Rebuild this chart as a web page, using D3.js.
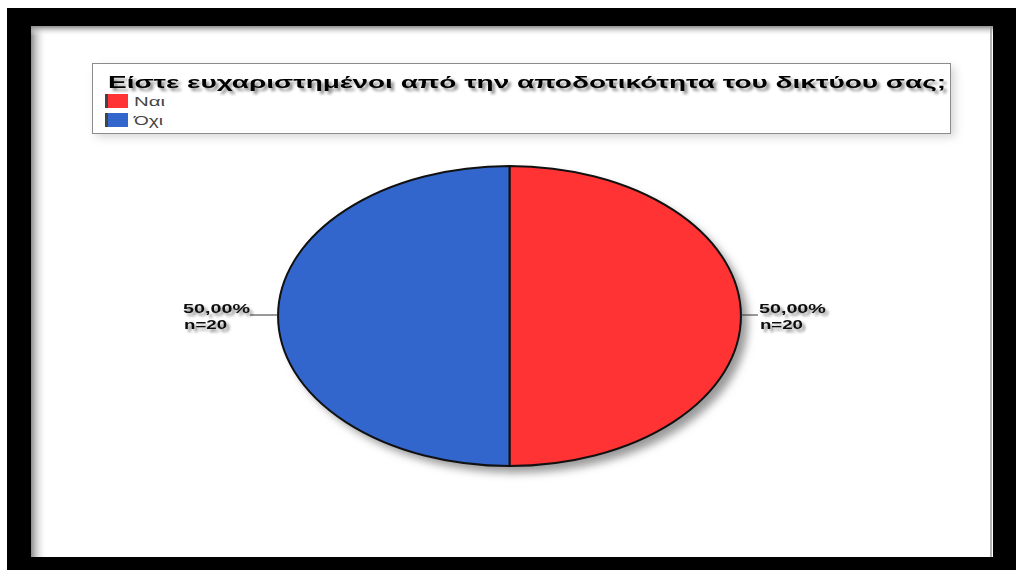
<!DOCTYPE html>
<html>
<head>
<meta charset="utf-8">
<script src="https://cdn.jsdelivr.net/npm/d3@7"></script>
<style>
  html, body { margin: 0; padding: 0; background: #fff; }
  svg { display: block; }
  text { font-family: "Liberation Sans", Arial, sans-serif; }
</style>
</head>
<body>
<svg id="chart" width="1016" height="570"></svg>
<script>
// Survey answers
const categories = ["Ναι", "Όχι"];
const counts = [20, 20];
const percentLabels = ["50,00%", "50,00%"];
const countLabels = ["n=20", "n=20"];
const colors = ["#ff3333", "#3366cc"];
const title = "Είστε ευχαριστημένοι από την αποδοτικότητα του δικτύου σας;";

const svg = d3.select("#chart");
const W = 1016, H = 570;

const defs = svg.append("defs");
const shadow = defs.append("filter").attr("id", "soft").attr("x", "-20%").attr("y", "-20%")
  .attr("width", "140%").attr("height", "140%");
shadow.append("feGaussianBlur").attr("stdDeviation", 4);

const txtShadow = defs.append("filter").attr("id", "txtShadow").attr("x", "-10%").attr("y", "-40%")
  .attr("width", "120%").attr("height", "180%");
txtShadow.append("feGaussianBlur").attr("in", "SourceAlpha").attr("stdDeviation", 1.6).attr("result", "b");
txtShadow.append("feOffset").attr("in", "b").attr("dx", 3).attr("dy", 3).attr("result", "o");
txtShadow.append("feComponentTransfer").attr("in", "o").attr("result", "s")
  .append("feFuncA").attr("type", "linear").attr("slope", 0.45);
const m = txtShadow.append("feMerge");
m.append("feMergeNode").attr("in", "s");
m.append("feMergeNode").attr("in", "SourceGraphic");

const gl = defs.append("linearGradient").attr("id", "edgeL").attr("x1", 0).attr("x2", 1);
gl.append("stop").attr("offset", 0).attr("stop-color", "#8a8a8a");
gl.append("stop").attr("offset", 1).attr("stop-color", "#fff").attr("stop-opacity", 0);
const gt = defs.append("linearGradient").attr("id", "edgeT").attr("x1", 0).attr("x2", 0).attr("y1", 0).attr("y2", 1);
gt.append("stop").attr("offset", 0).attr("stop-color", "#8a8a8a");
gt.append("stop").attr("offset", 1).attr("stop-color", "#fff").attr("stop-opacity", 0);

// Black outer frame
svg.append("rect").attr("x", 7).attr("y", 8).attr("width", W - 7).attr("height", H - 8).attr("fill", "#000");
svg.append("rect").attr("x", 31).attr("y", 26).attr("width", 962 - 0).attr("height", 531).attr("fill", "#fff");
svg.append("rect").attr("x", 31).attr("y", 26).attr("width", 16).attr("height", 531).attr("fill", "url(#edgeL)");
svg.append("rect").attr("x", 31).attr("y", 26).attr("width", 962).attr("height", 10).attr("fill", "url(#edgeT)");
svg.append("line").attr("x1", 991).attr("x2", 991).attr("y1", 26).attr("y2", 557)
  .attr("stroke", "#999").attr("stroke-width", 1.5);

// Legend box
const legend = svg.append("g");
legend.append("rect").attr("x", 96).attr("y", 67).attr("width", 859).attr("height", 70)
  .attr("fill", "#bbb").attr("filter", "url(#soft)").attr("opacity", 0.6);
legend.append("rect").attr("x", 92.5).attr("y", 63.5).attr("width", 858).attr("height", 70)
  .attr("fill", "#fff").attr("stroke", "#8c8c8c").attr("stroke-width", 1);

legend.append("text").attr("x", 108).attr("y", 88)
  .attr("font-size", 17).attr("font-weight", "bold").attr("fill", "#000")
  .attr("textLength", 838).attr("lengthAdjust", "spacingAndGlyphs")
  .attr("filter", "url(#txtShadow)")
  .text(title);

const items = legend.selectAll("g.item").data(categories).join("g").attr("class", "item")
  .attr("transform", (d, i) => `translate(105, ${94 + i * 19})`);
items.append("rect").attr("width", 23).attr("height", 14)
  .attr("fill", (d, i) => colors[i]);
items.append("rect").attr("width", 3).attr("height", 14).attr("fill", "#444");
items.append("text").attr("x", 29).attr("y", 12)
  .attr("font-size", 13).attr("fill", "#444")
  .attr("textLength", (d, i) => i === 0 ? 31 : 29).attr("lengthAdjust", "spacingAndGlyphs")
  .text(d => d);

// Pie, drawn as a circle and stretched horizontally
const cx = 509.5, cy = 316, r = 150, sx = 1.543;
const pie = d3.pie().sort(null).startAngle(0).endAngle(2 * Math.PI)(counts);
const arc = d3.arc().innerRadius(0).outerRadius(r);

svg.append("ellipse").attr("cx", cx + 7).attr("cy", cy + 7).attr("rx", r * sx).attr("ry", r)
  .attr("fill", "#9a9a9a").attr("filter", "url(#soft)");

const pg = svg.append("g").attr("transform", `translate(${cx},${cy}) scale(${sx},1)`);
pg.selectAll("path").data(pie).join("path")
  .attr("d", arc)
  .attr("fill", (d, i) => colors[i])
  .attr("stroke", "#111").attr("stroke-width", 2)
  .attr("vector-effect", "non-scaling-stroke");

// Leader lines and value labels
const labelSide = pie.map(d => {
  const mid = (d.startAngle + d.endAngle) / 2;
  return { x: Math.sin(mid) * r * sx, y: -Math.cos(mid) * r };
});
const lg = svg.append("g").attr("transform", `translate(${cx},${cy})`);
labelSide.forEach((p, i) => {
  const right = p.x > 0;
  const len = right ? 17 : 28;
  const x2 = p.x + (right ? len : -len);
  lg.append("line").attr("x1", p.x).attr("x2", x2).attr("y1", p.y - 1).attr("y2", p.y - 1)
    .attr("stroke", "#333").attr("stroke-width", 1);
  const tx = right ? x2 + 1 : x2 - 67;
  lg.append("text").attr("x", tx).attr("y", p.y - 3)
    .attr("font-size", 12.5).attr("font-weight", "bold").attr("fill", "#111")
    .attr("textLength", 67).attr("lengthAdjust", "spacingAndGlyphs")
    .attr("filter", "url(#txtShadow)")
    .text(percentLabels[i]);
  lg.append("text").attr("x", tx + 1).attr("y", p.y + 13)
    .attr("font-size", 12.5).attr("font-weight", "bold").attr("fill", "#111")
    .attr("textLength", 43).attr("lengthAdjust", "spacingAndGlyphs")
    .attr("filter", "url(#txtShadow)")
    .text(countLabels[i]);
});
</script>
</body>
</html>
